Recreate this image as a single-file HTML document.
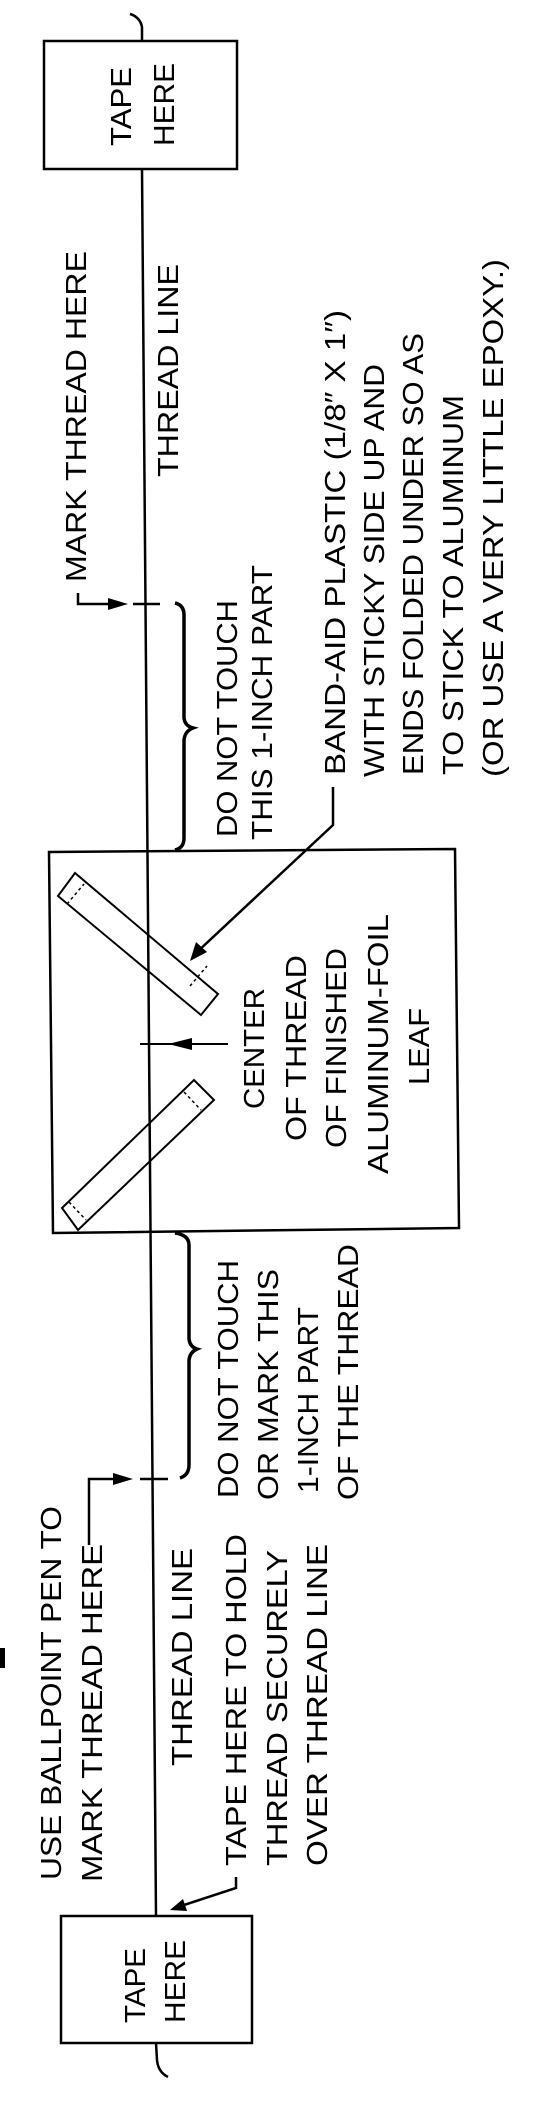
<!DOCTYPE html>
<html><head><meta charset="utf-8"><style>
html,body{margin:0;padding:0;background:#fff;}
svg{display:block;}
text{font-family:"Liberation Sans",sans-serif;font-size:29px;fill:#000;}
</style></head><body>
<svg width="560" height="2123" viewBox="0 0 560 2123" xmlns="http://www.w3.org/2000/svg">
<g fill="none" stroke="#000" stroke-width="2.5">
<!-- thread -->
<line x1="142" y1="169" x2="156" y2="1916"/>
<!-- top box + curl -->
<rect x="44" y="41" width="193" height="128"/>
<path d="M142 41 L142 27 Q140 17 130 14"/>
<!-- bottom box + curl -->
<rect x="61" y="1916" width="191" height="127"/>
<path d="M156 2043 L157 2060 Q158 2072 168 2077"/>
<!-- upper mark leader -->
<path d="M78 593 L78 604 L112 604"/>
<line x1="133" y1="604" x2="160" y2="604"/>
<!-- lower mark leader -->
<path d="M89 1545 L89 1479 L118 1479"/>
<line x1="140" y1="1479" x2="168" y2="1479"/>
<!-- braces -->
<path d="M175 603 Q184 605 184 615 L184 718 Q185 726 193 728 Q185 731 184 740 L184 838 Q184 848 175 850" stroke-width="3.5"/>
<path d="M175 1233 Q189 1235 189 1245 L189 1339 Q190 1347 197 1349 Q190 1352 189 1360 L189 1465 Q189 1475 180 1478" stroke-width="3.5"/>
<!-- leaf box -->
<polygon points="49,852 455,849 459,1228 53,1233"/>
<!-- strips -->
<polygon points="58,896 75,873 218,994 201,1015" stroke-width="2"/>
<polygon points="62,1208 194,1080 214,1100 78,1230" stroke-width="2"/>
<g stroke-width="1.5" stroke-dasharray="3,3">
<line x1="67" y1="904" x2="84" y2="884"/>
<line x1="190" y1="986" x2="207" y2="966"/>
<line x1="69" y1="1202" x2="86" y2="1220"/>
<line x1="184" y1="1092" x2="201" y2="1110"/>
</g>
<!-- band-aid leader -->
<path d="M333 787 L333 825 L196 953"/>
<!-- center arrow -->
<line x1="228" y1="1044" x2="140" y2="1044" stroke-width="2"/>
<!-- tape here leader -->
<path d="M236 1877 L236 1888 L178 1907"/>
</g>
<g fill="#000">
<polygon points="128,604 108,598 108,610"/>
<polygon points="133,1479 113,1473 113,1485"/>
<polygon points="190,961 196,942 207,952"/>
<polygon points="168,1044 192,1038 192,1050"/>
<polygon points="170,1910 183,1899 187,1911"/>
<rect x="0" y="1648" width="5" height="20"/>
</g>
<g>
<text transform="translate(131,146) rotate(-90)" textLength="79" lengthAdjust="spacingAndGlyphs">TAPE</text>
<text transform="translate(174,146) rotate(-90)" textLength="83" lengthAdjust="spacingAndGlyphs">HERE</text>
<text transform="translate(86,582) rotate(-90)" textLength="331" lengthAdjust="spacingAndGlyphs">MARK THREAD HERE</text>
<text transform="translate(178,477) rotate(-90)" textLength="213" lengthAdjust="spacingAndGlyphs">THREAD LINE</text>
<text transform="translate(237,837) rotate(-90)" textLength="237" lengthAdjust="spacingAndGlyphs">DO NOT TOUCH</text>
<text transform="translate(272,840) rotate(-90)" textLength="275" lengthAdjust="spacingAndGlyphs">THIS 1-INCH PART</text>
<text transform="translate(345,775) rotate(-90)" textLength="465" lengthAdjust="spacingAndGlyphs">BAND-AID PLASTIC (1/8″ X 1″)</text>
<text transform="translate(384,777) rotate(-90)" textLength="413" lengthAdjust="spacingAndGlyphs">WITH STICKY SIDE UP AND</text>
<text transform="translate(423,775) rotate(-90)" textLength="442" lengthAdjust="spacingAndGlyphs">ENDS FOLDED UNDER SO AS</text>
<text transform="translate(463,775) rotate(-90)" textLength="380" lengthAdjust="spacingAndGlyphs">TO STICK TO ALUMINUM</text>
<text transform="translate(503,777) rotate(-90)" textLength="518" lengthAdjust="spacingAndGlyphs">(OR USE A VERY LITTLE EPOXY.)</text>
<text transform="translate(264,1109) rotate(-90)" textLength="121" lengthAdjust="spacingAndGlyphs">CENTER</text>
<text transform="translate(306,1141) rotate(-90)" textLength="186" lengthAdjust="spacingAndGlyphs">OF THREAD</text>
<text transform="translate(346,1148) rotate(-90)" textLength="200" lengthAdjust="spacingAndGlyphs">OF FINISHED</text>
<text transform="translate(388,1174) rotate(-90)" textLength="260" lengthAdjust="spacingAndGlyphs">ALUMINUM-FOIL</text>
<text transform="translate(429,1085) rotate(-90)" textLength="77" lengthAdjust="spacingAndGlyphs">LEAF</text>
<text transform="translate(238,1498) rotate(-90)" textLength="238" lengthAdjust="spacingAndGlyphs">DO NOT TOUCH</text>
<text transform="translate(278,1500) rotate(-90)" textLength="231" lengthAdjust="spacingAndGlyphs">OR MARK THIS</text>
<text transform="translate(318,1493) rotate(-90)" textLength="186" lengthAdjust="spacingAndGlyphs">1-INCH PART</text>
<text transform="translate(358,1500) rotate(-90)" textLength="256" lengthAdjust="spacingAndGlyphs">OF THE THREAD</text>
<text transform="translate(61,1880) rotate(-90)" textLength="374" lengthAdjust="spacingAndGlyphs">USE BALLPOINT PEN TO</text>
<text transform="translate(102,1882) rotate(-90)" textLength="338" lengthAdjust="spacingAndGlyphs">MARK THREAD HERE</text>
<text transform="translate(192,1766) rotate(-90)" textLength="218" lengthAdjust="spacingAndGlyphs">THREAD LINE</text>
<text transform="translate(246,1866) rotate(-90)" textLength="332" lengthAdjust="spacingAndGlyphs">TAPE HERE TO HOLD</text>
<text transform="translate(287,1866) rotate(-90)" textLength="316" lengthAdjust="spacingAndGlyphs">THREAD SECURELY</text>
<text transform="translate(327,1866) rotate(-90)" textLength="322" lengthAdjust="spacingAndGlyphs">OVER THREAD LINE</text>
<text transform="translate(145,2023) rotate(-90)" textLength="75" lengthAdjust="spacingAndGlyphs">TAPE</text>
<text transform="translate(185,2023) rotate(-90)" textLength="83" lengthAdjust="spacingAndGlyphs">HERE</text>
</g>
</svg>
</body></html>
